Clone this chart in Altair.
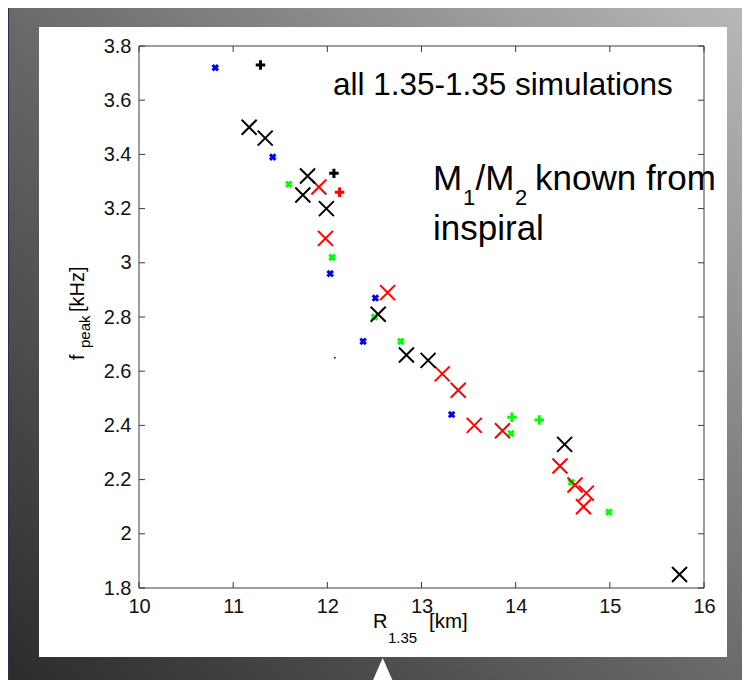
import altair as alt
import pandas as pd

# ---------------- data ----------------
x_ticks = [10, 11, 12, 13, 14, 15, 16]
y_ticks = [1.8, 2.0, 2.2, 2.4, 2.6, 2.8, 3.0, 3.2, 3.4, 3.6, 3.8]

# large thin "X" markers
bigx_black_R = [11.17, 11.34, 11.79, 11.74, 11.99, 12.54, 12.84, 13.07, 14.52, 15.74]
bigx_black_f = [3.50, 3.46, 3.32, 3.25, 3.20, 2.81, 2.66, 2.64, 2.33, 1.85]
bigx_red_R = [11.91, 11.98, 12.64, 13.22, 13.39, 13.56, 13.86, 14.47, 14.63, 14.75, 14.72]
bigx_red_f = [3.28, 3.09, 2.89, 2.59, 2.53, 2.40, 2.38, 2.25, 2.18, 2.15, 2.10]

# small bold "x" markers
smallx_blue_R = [10.81, 11.42, 12.03, 12.51, 12.38, 13.32]
smallx_blue_f = [3.72, 3.39, 2.96, 2.87, 2.71, 2.44]
smallx_green_R = [11.59, 12.05, 12.50, 12.78, 13.95, 14.59, 14.99]
smallx_green_f = [3.29, 3.02, 2.80, 2.71, 2.37, 2.19, 2.08]

# "+" markers
plus_black_R = [11.29, 12.07]
plus_black_f = [3.73, 3.33]
plus_red_R = [12.13]
plus_red_f = [3.26]
plus_green_R = [13.96, 14.25]
plus_green_f = [2.43, 2.42]

# tiny dot
dot_R = [12.08]
dot_f = [2.65]

series_names = ["black", "red", "blue", "green"]
series_colors = ["#000000", "#ff0000", "#0000ff", "#00ff00"]

# ---------------- frames ----------------
def frame(R, f, s):
    return pd.DataFrame({"R": R, "f": f, "series": [s] * len(R)})

bigx_red = frame(bigx_red_R, bigx_red_f, "red")
bigx_black = frame(bigx_black_R, bigx_black_f, "black")
smallx = pd.concat([frame(smallx_blue_R, smallx_blue_f, "blue"),
                    frame(smallx_green_R, smallx_green_f, "green")])
plus = pd.concat([frame(plus_black_R, plus_black_f, "black"),
                  frame(plus_red_R, plus_red_f, "red"),
                  frame(plus_green_R, plus_green_f, "green")])
dots = frame(dot_R, dot_f, "black")
xt = pd.DataFrame({"R": x_ticks})
yt = pd.DataFrame({"f": y_ticks})
one = pd.DataFrame({"k": [0]})

FONT = "Liberation Sans"
W, H = 565, 542
FRAME = "#3a3a3a"

xs = alt.Scale(domain=[10, 16], nice=False, zero=False)
ys = alt.Scale(domain=[1.8, 3.8], nice=False, zero=False)
x_axis = alt.Axis(values=x_ticks, title=None, ticks=False, tickSize=0, domain=False,
                  grid=False, labelFontSize=20, labelFont=FONT, labelColor="#111111",
                  labelPadding=8, labelFlush=False, format="d", zindex=2)
y_axis = alt.Axis(values=y_ticks, title=None, ticks=False, tickSize=0, domain=False,
                  grid=False, labelFontSize=20, labelFont=FONT, labelColor="#111111",
                  labelPadding=8, labelFlush=False, format="~g", zindex=2)
X = alt.X("R:Q", scale=xs, axis=x_axis)
Y = alt.Y("f:Q", scale=ys, axis=y_axis)
C = alt.Color("series:N", scale=alt.Scale(domain=series_names, range=series_colors), legend=None)

X_PATH = "M-1,-1L1,1M-1,1L1,-1"
PLUS_PATH = "M-1,0L1,0M0,-1L0,1"

# ---------------- decoration ----------------
grad = alt.LinearGradient(
    gradient="linear",
    stops=[alt.GradientStop(color="#bababa", offset=0),
           alt.GradientStop(color="#6a6a6a", offset=0.5),
           alt.GradientStop(color="#2a2a2a", offset=1)],
    x1=1, y1=0, x2=0, y2=1)

bg = alt.Chart(one).mark_rect(fill=grad).encode(
    x=alt.value(-139), x2=alt.value(611), y=alt.value(-46), y2=alt.value(646))
navy = alt.Chart(one).mark_rect(fill="#2b2b55").encode(
    x=alt.value(-139), x2=alt.value(-130), y=alt.value(-46), y2=alt.value(646))
panel = alt.Chart(one).mark_rect(fill="white").encode(
    x=alt.value(-100), x2=alt.value(588), y=alt.value(-19), y2=alt.value(611))
arrow_head = alt.Chart(one).mark_point(
    shape="M0,-1L0.875,1L-0.875,1Z", filled=True, fill="white", opacity=1,
    size=576, strokeWidth=0).encode(x=alt.value(243.7), y=alt.value(624))
arrow_stem = alt.Chart(one).mark_rule(color="white", strokeWidth=4).encode(
    x=alt.value(243.5), y=alt.value(635), y2=alt.value(646))
box = alt.Chart(one).mark_rect(filled=False, stroke=FRAME, strokeWidth=1).encode(
    x=alt.value(0), x2=alt.value(W), y=alt.value(0), y2=alt.value(H))

tick_b = alt.Chart(xt).mark_rule(color=FRAME, strokeWidth=1).encode(
    x=X, y=alt.value(H), y2=alt.value(H - 6))
tick_t = alt.Chart(xt).mark_rule(color=FRAME, strokeWidth=1).encode(
    x=X, y=alt.value(0), y2=alt.value(6))
tick_l = alt.Chart(yt).mark_rule(color=FRAME, strokeWidth=1).encode(
    y=Y, x=alt.value(0), x2=alt.value(6))
tick_r = alt.Chart(yt).mark_rule(color=FRAME, strokeWidth=1).encode(
    y=Y, x=alt.value(W), x2=alt.value(W - 6))

# ---------------- data marks ----------------
pts_smallx = alt.Chart(smallx).mark_point(
    shape=X_PATH, filled=False, size=30, strokeWidth=3, opacity=1).encode(x=X, y=Y, color=C)
pts_red = alt.Chart(bigx_red).mark_point(
    shape=X_PATH, filled=False, size=225, strokeWidth=2, opacity=1).encode(x=X, y=Y, color=C)
pts_black = alt.Chart(bigx_black).mark_point(
    shape=X_PATH, filled=False, size=225, strokeWidth=2, opacity=1).encode(x=X, y=Y, color=C)
pts_plus = alt.Chart(plus).mark_point(
    shape=PLUS_PATH, filled=False, size=90, strokeWidth=3, opacity=1).encode(x=X, y=Y, color=C)
pts_dot = alt.Chart(dots).mark_point(
    shape="circle", filled=True, size=3, opacity=1).encode(x=X, y=Y, color=C)

# ---------------- texts ----------------
def txt(s, x, y, size, angle=0):
    kw = dict(text=s, align="left", baseline="alphabetic", font=FONT,
              fontSize=size, color="#000000")
    if angle:
        kw["angle"] = angle
    return alt.Chart(one).mark_text(**kw).encode(x=alt.value(x), y=alt.value(y))

texts = [
    txt("all 1.35-1.35 simulations", 194, 49, 31.5),
    txt("M", 294, 144, 35),
    txt("1", 324, 159, 22),
    txt("/M", 336.5, 144, 35),
    txt("2", 376, 159, 22),
    txt("known from", 396, 144, 35),
    txt("inspiral", 294, 194, 35),
    # x axis title
    txt("R", 234, 582, 20),
    txt("1.35", 249, 597, 15),
    txt("[km]", 290, 582, 20.5),
    # y axis title (rotated)
    txt("f", -55, 314, 20, 270),
    txt("peak", -49, 302, 15, 270),
    txt("[kHz]", -55, 266, 20, 270),
]

chart = alt.layer(
    bg, navy, panel, arrow_head, arrow_stem, box,
    tick_b, tick_t, tick_l, tick_r,
    pts_smallx, pts_red, pts_black, pts_plus, pts_dot,
    *texts
).properties(
    width=W, height=H,
    autosize=alt.AutoSizeParams(type="none"),
    padding={"left": 131, "top": 38, "right": 38, "bottom": 92},
).configure_view(stroke="transparent")

chart.save("out.html", embed_options={"renderer": "svg", "actions": False})
